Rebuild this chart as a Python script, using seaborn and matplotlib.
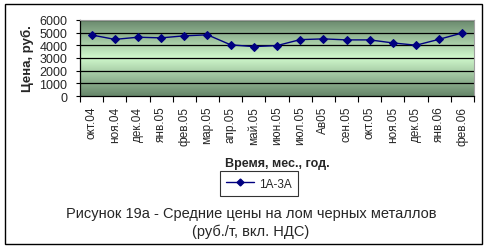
import numpy as np
import pandas as pd
import matplotlib
matplotlib.use("Agg")
import matplotlib.pyplot as plt
from matplotlib.colors import LinearSegmentedColormap
from matplotlib.patches import Rectangle
from matplotlib.lines import Line2D
import seaborn as sns

months = ["окт.04", "ноя.04", "дек.04", "янв.05", "фев.05", "мар.05", "апр.05",
          "май.05", "июн.05", "июл.05", "Ав05", "сен.05", "окт.05", "ноя.05",
          "дек.05", "янв.06", "фев.06"]
prices = [4820, 4470, 4640, 4590, 4750, 4830, 4040, 3900, 3980, 4450, 4510,
          4430, 4430, 4190, 4010, 4480, 4980]
series_name = "1А-3А"
y_ticks = [0, 1000, 2000, 3000, 4000, 5000, 6000]

sns.set_theme(style="white")
plt.rcParams['font.family'] = ['Liberation Sans', 'DejaVu Sans']

fig = plt.figure(figsize=(4.9, 2.51), dpi=100)
W, H = 490, 251
ax = fig.add_axes([80 / W, 1 - 97 / H, (474 - 80) / W, (97 - 21) / H])

# gradient background
cmap = LinearSegmentedColormap.from_list("g", ["#66866a", "#d0f8cc", "#66866a"])
grad = np.linspace(0, 1, 256).reshape(-1, 1)
ax.imshow(grad, cmap=cmap, extent=[-0.5, len(months) - 0.5, 0, 6000],
          aspect="auto", zorder=0, interpolation="bilinear")

df = pd.DataFrame({"month": months, "price": prices, "series": series_name})
sns.lineplot(data=df, x="month", y="price", sort=False, ax=ax, color="#000080",
             marker="D", markersize=4.5, markeredgecolor="#000080",
             linewidth=1.0, zorder=3, legend=False)

ax.set_xlim(-0.5, len(months) - 0.5)
ax.set_ylim(0, 6000)
ax.set_yticks(y_ticks)
ax.set_yticklabels([str(v) for v in y_ticks], fontsize=9)
for v in y_ticks[1:]:
    ax.axhline(v, color="black", linewidth=0.9, zorder=1)

ax.set_xticks(range(len(months)))
ax.set_xticklabels(months, rotation=90, fontsize=8.5)
ax.tick_params(axis="x", length=0, pad=7)
ax.tick_params(axis="y", length=3, width=0.8, pad=6, direction="out", left=True, color="black")
# ticks between categories
ax.set_xticks(np.arange(-0.5, len(months), 1.0), minor=True)
ax.tick_params(axis="x", which="minor", length=4, width=0.8, direction="out", bottom=True, color="black")

for s in ["top", "right"]:
    ax.spines[s].set_color("#a0a0a0")
    ax.spines[s].set_linewidth(0.8)
for s in ["left", "bottom"]:
    ax.spines[s].set_color("black")
    ax.spines[s].set_linewidth(0.9)

ax.set_ylabel("Цена, руб.", fontsize=9.5, fontweight="bold")
ax.set_xlabel("Время, мес., год.", fontsize=9, fontweight="bold")
ax.yaxis.set_label_coords(-0.117, 0.5)
ax.xaxis.set_label_coords(0.5, -0.80)

h = Line2D([0], [0], color="#000080", marker="D", markersize=3.5, linewidth=1.0)
leg = fig.legend([h], [series_name], loc="center", bbox_to_anchor=(259 / W, 1 - 184.5 / H),
                 fontsize=8.5, frameon=True, fancybox=False, edgecolor="black",
                 handlelength=2.4, borderpad=0.55, handletextpad=0.4, borderaxespad=0)
leg.get_frame().set_linewidth(0.8)

fig.text(251 / W, 1 - 214 / H, "Рисунок 19а - Средние цены на лом черных металлов",
         ha="center", va="center", fontsize=10.5)
fig.text(251 / W, 1 - 232 / H, "(руб./т, вкл. НДС)", ha="center", va="center", fontsize=10.5)

fig.patches.append(Rectangle((5 / W, 1 - 245 / H), (482 - 5) / W, (245 - 5) / H,
                             transform=fig.transFigure, fill=False, edgecolor="black",
                             linewidth=1.0))

fig.savefig("out.png", dpi=100)
